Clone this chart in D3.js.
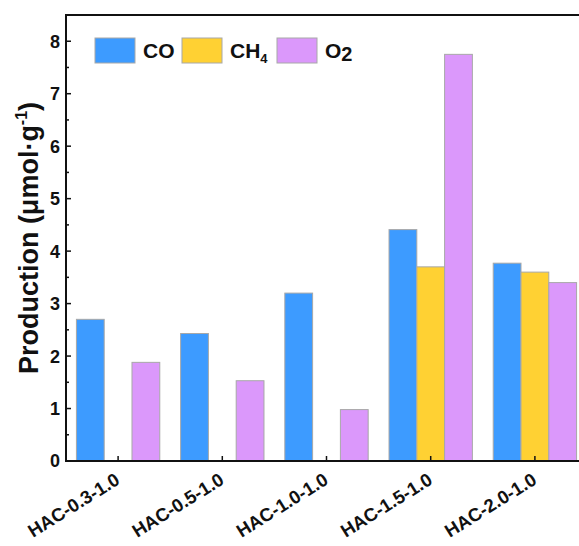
<!DOCTYPE html>
<html>
<head>
<meta charset="utf-8">
<script src="https://cdn.jsdelivr.net/npm/d3@7"></script>
<style>
  html, body { margin: 0; padding: 0; background: #fff; }
  svg { display: block; }
  text { font-family: Arial, "Liberation Sans", sans-serif; font-weight: bold; fill: #111; }
</style>
</head>
<body>
<svg id="chart" width="579" height="546"></svg>
<script>
// Samples and gas production (µmol·g⁻¹)
const samples = ["HAC-0.3-1.0", "HAC-0.5-1.0", "HAC-1.0-1.0", "HAC-1.5-1.0", "HAC-2.0-1.0"];
const gases = ["CO", "CH4", "O2"];
const coValues = [2.70, 2.43, 3.20, 4.41, 3.77];
const ch4Values = [0, 0, 0, 3.70, 3.60];
const o2Values = [1.88, 1.53, 0.98, 7.75, 3.40];
const yTicks = [0, 1, 2, 3, 4, 5, 6, 7, 8];
const yMinorTicks = [0.5, 1.5, 2.5, 3.5, 4.5, 5.5, 6.5, 7.5];
const colors = ["#3d9bff", "#ffd133", "#db98fb"];

const seriesValues = [coValues, ch4Values, o2Values];

const svg = d3.select("#chart");
const plotLeft = 66, plotTop = 15, plotBottom = 461, plotRight = 587;

const x0 = d3.scaleBand().domain(samples).range([plotLeft, plotRight]).paddingInner(0.2).paddingOuter(0.1);
const x1 = d3.scaleBand().domain(gases).range([0, x0.bandwidth()]);
const y = d3.scaleLinear().domain([0, 8.5]).range([plotBottom, plotTop]);

// bars
const groups = svg.append("g").selectAll("g")
  .data(samples)
  .join("g")
  .attr("transform", d => `translate(${x0(d)},0)`);

groups.selectAll("rect")
  .data((d, i) => gases.map((g, k) => ({ gas: g, k, v: seriesValues[k][i] })).filter(o => o.v > 0))
  .join("rect")
  .attr("x", d => x1(d.gas))
  .attr("y", d => y(d.v))
  .attr("width", x1.bandwidth())
  .attr("height", d => y(0) - y(d.v))
  .attr("fill", d => colors[d.k])
  .attr("stroke", "#a8a8a8")
  .attr("stroke-width", 1);

// frame: left axis, bottom axis, top border
const frame = svg.append("g").attr("stroke", "#111").attr("stroke-width", 2).attr("fill", "none");
frame.append("line").attr("x1", plotLeft).attr("x2", plotLeft).attr("y1", plotTop - 1).attr("y2", plotBottom + 1);
frame.append("line").attr("x1", plotLeft - 1).attr("x2", plotRight).attr("y1", plotBottom).attr("y2", plotBottom);
frame.append("line").attr("x1", plotLeft - 1).attr("x2", plotRight).attr("y1", plotTop).attr("y2", plotTop);

// y axis
const yAxis = svg.append("g");
yAxis.selectAll("line.major")
  .data(yTicks).join("line")
  .attr("class", "major")
  .attr("x1", plotLeft).attr("x2", plotLeft + 5)
  .attr("y1", d => y(d)).attr("y2", d => y(d))
  .attr("stroke", "#111").attr("stroke-width", 1.5);
yAxis.selectAll("line.minor")
  .data(yMinorTicks).join("line")
  .attr("class", "minor")
  .attr("x1", plotLeft).attr("x2", plotLeft + 3)
  .attr("y1", d => y(d)).attr("y2", d => y(d))
  .attr("stroke", "#111").attr("stroke-width", 1.5);
yAxis.selectAll("text")
  .data(yTicks).join("text")
  .attr("x", plotLeft - 6)
  .attr("y", d => y(d))
  .attr("dy", "0.36em")
  .attr("text-anchor", "end")
  .attr("font-size", 18)
  .text(d => d);

// x axis ticks and labels
const xAxis = svg.append("g");
xAxis.selectAll("line")
  .data(samples).join("line")
  .attr("x1", d => x0(d) + x0.bandwidth() / 2)
  .attr("x2", d => x0(d) + x0.bandwidth() / 2)
  .attr("y1", plotBottom).attr("y2", plotBottom - 5)
  .attr("stroke", "#111").attr("stroke-width", 1.5);
xAxis.selectAll("text")
  .data(samples).join("text")
  .attr("text-anchor", "end")
  .attr("font-size", 18.5)
  .attr("transform", d => `translate(${x0(d) + x0.bandwidth() / 2 + 3},${plotBottom + 22}) rotate(-32)`)
  .text(d => d);

// y axis title
const title = svg.append("text")
  .attr("text-anchor", "middle")
  .attr("font-size", 27)
  .attr("transform", `translate(38,${(plotTop + plotBottom) / 2}) rotate(-90)`);
title.append("tspan").text("Production (μmol·g");
title.append("tspan").attr("font-size", 16).attr("dy", -11).text("-1");
title.append("tspan").attr("dy", 11).text(")");

// legend
const legendItems = [
  { label: "CO", sub: null, x: 95 },
  { label: "CH", sub: "4", x: 182 },
  { label: "O", sub: "2", x: 277 }
];
const legend = svg.append("g");
legendItems.forEach((item, k) => {
  legend.append("rect")
    .attr("x", item.x).attr("y", 38)
    .attr("width", 40).attr("height", 25)
    .attr("fill", colors[k])
    .attr("stroke", "#a8a8a8").attr("stroke-width", 1);
  const t = legend.append("text")
    .attr("x", item.x + 48).attr("y", 58)
    .attr("font-size", 21);
  t.append("tspan").text(item.label);
  if (item.sub) {
    t.append("tspan")
      .attr("font-size", k === 2 ? 20 : 13)
      .attr("dy", k === 2 ? 3 : 5)
      .text(item.sub);
  }
});
</script>
</body>
</html>
